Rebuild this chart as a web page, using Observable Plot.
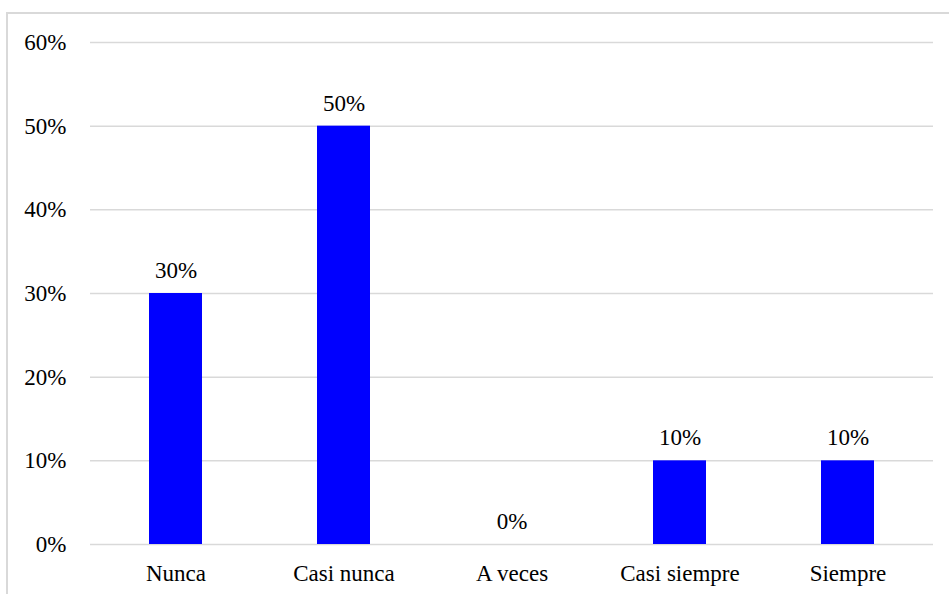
<!DOCTYPE html>
<html>
<head>
<meta charset="utf-8">
<script src="https://cdn.jsdelivr.net/npm/d3@7"></script>
<script src="https://cdn.jsdelivr.net/npm/@observablehq/plot@0.6"></script>
<style>
  html, body { margin: 0; padding: 0; background: #fff; width: 949px; height: 594px; overflow: hidden; }
  #wrap { position: relative; width: 949px; height: 594px; }
  #border { position: absolute; left: 6px; top: 12px; width: 1200px; height: 1200px; border: 2px solid #d9d9d9; box-sizing: border-box; }
  #chart { position: absolute; left: 0; top: 0; }
  #chart svg, #chart svg text { font-family: "Liberation Serif", "Times New Roman", serif !important; }
</style>
</head>
<body>
<div id="wrap"><div id="border"></div><div id="chart"></div></div>
<script>
const categories = ["Nunca", "Casi nunca", "A veces", "Casi siempre", "Siempre"];
const values = [0.30, 0.50, 0.00, 0.10, 0.10];
const yTicks = [0, 0.1, 0.2, 0.3, 0.4, 0.5, 0.6];

const data = categories.map((c, i) => ({category: c, value: values[i]}));
const pct = d3.format(".0%");
const serif = "Liberation Serif, Times New Roman, serif";

const chart = Plot.plot({
  width: 949,
  height: 594,
  marginLeft: 90,
  marginRight: 16,
  marginTop: 42,
  marginBottom: 50,
  style: {fontFamily: serif, fontSize: "23px", color: "#000", background: "transparent"},
  x: {domain: categories, paddingInner: 0.686, paddingOuter: 0.343, label: null},
  y: {domain: [0, 0.6], label: null},
  marks: [
    Plot.gridY(yTicks, {stroke: "#d9d9d9", strokeOpacity: 1, strokeWidth: 1.5}),
    Plot.barY(data, {x: "category", y: "value", fill: "#0000ff"}),
    Plot.text(data, {x: "category", y: "value", text: d => pct(d.value), dy: -23, lineAnchor: "middle", fill: "#000", fontSize: 23, fontFamily: serif}),
    Plot.axisY(yTicks, {tickSize: 0, tickPadding: 24, tickFormat: pct, fontSize: 23, fontFamily: serif, fill: "#000", label: null}),
    Plot.axisX({tickSize: 0, tickPadding: 20, fontSize: 23, fontFamily: serif, fill: "#000", label: null})
  ]
});
document.getElementById("chart").appendChild(chart);
</script>
</body>
</html>
